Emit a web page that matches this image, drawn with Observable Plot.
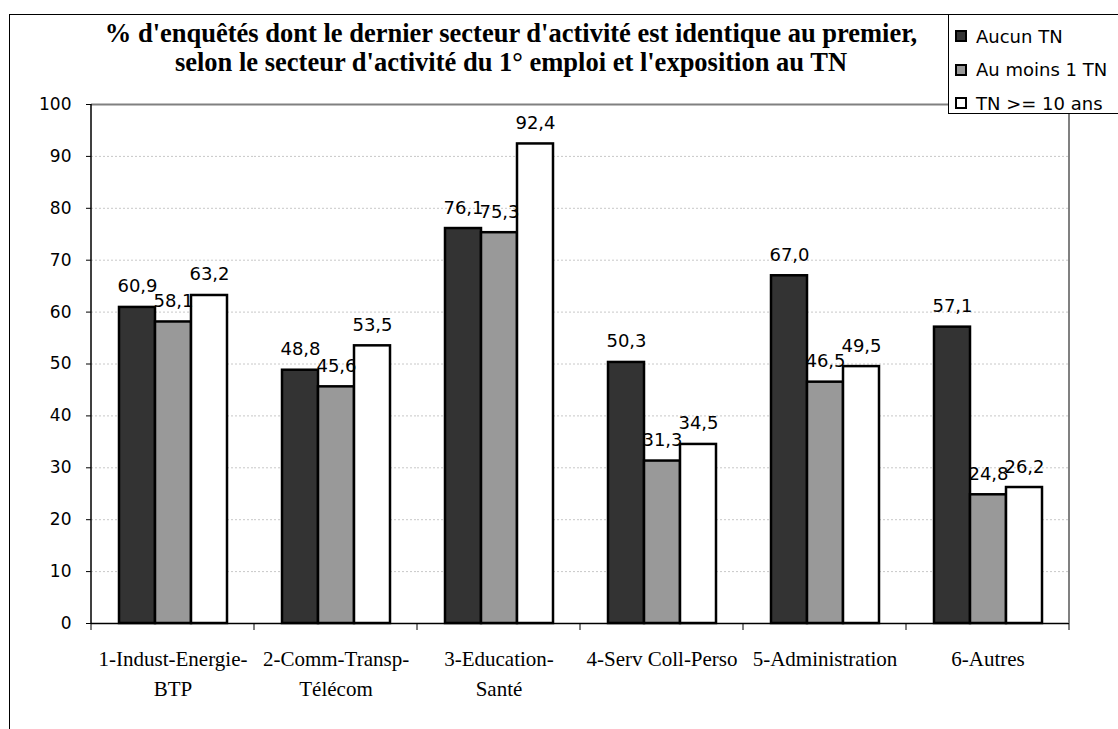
<!DOCTYPE html>
<html>
<head>
<meta charset="utf-8">
<script src="https://cdn.jsdelivr.net/npm/d3@7"></script>
<script src="https://cdn.jsdelivr.net/npm/@observablehq/plot@0.6"></script>
<style>
  html, body { margin: 0; padding: 0; background: #fff; }
  #wrap { position: relative; width: 1118px; height: 729px; overflow: hidden; }
  #frame { position: absolute; left: 9px; top: 14px; width: 1200px; height: 800px;
           border-left: 1px solid #000; border-top: 1px solid #000; }
  #title { position: absolute; left: 0; width: 1022px; top: 19px; text-align: center;
           font-family: "Liberation Serif", "Times New Roman", serif; font-weight: bold;
           font-size: 26.5px; line-height: 29px; color: #000; }
  #legend { position: absolute; left: 948px; top: 14px; width: 200px; height: 98px;
            border: 1px solid #000; background: #fff; font-family: "DejaVu Sans", sans-serif;
            font-size: 18px; color: #000; }
  .item { position: absolute; left: 6px; height: 22px; display: flex; align-items: center; }
  .sw { width: 8px; height: 8px; border: 2px solid #000; margin-right: 9px; }
  #chart { position: absolute; left: 0; top: 0; }
</style>
</head>
<body>
<div id="wrap">
  <div id="frame"></div>
  <div id="chart"></div>
  <div id="title">% d'enquêtés dont le dernier secteur d'activité est identique au premier,<br>selon le secteur d'activité du 1° emploi et l'exposition au TN</div>
  <div id="legend"></div>
</div>
<script>
const categories = ["1-Indust-Energie-\nBTP", "2-Comm-Transp-\nTélécom", "3-Education-\nSanté", "4-Serv Coll-Perso", "5-Administration", "6-Autres"];
const series = ["Aucun TN", "Au moins 1 TN", "TN >= 10 ans"];
const aucunTN = [60.9, 48.8, 76.1, 50.3, 67.0, 57.1];
const auMoins1TN = [58.1, 45.6, 75.3, 31.3, 46.5, 24.8];
const tn10ans = [63.2, 53.5, 92.4, 34.5, 49.5, 26.2];
const colors = ["#333333", "#999999", "#ffffff"];
const yTicks = [0, 10, 20, 30, 40, 50, 60, 70, 80, 90, 100];

const seriesValues = [aucunTN, auMoins1TN, tn10ans];
const data = [];
categories.forEach((c, i) => {
  series.forEach((s, j) => data.push({cat: c, series: s, value: seriesValues[j][i]}));
});
const fmt = v => v.toFixed(1).replace(".", ",");

const plot = Plot.plot({
  width: 1118,
  height: 729,
  marginLeft: 88,
  marginRight: 47,
  marginTop: 104,
  marginBottom: 106,
  style: {background: "transparent", overflow: "visible"},
  fx: {domain: categories, padding: 0, label: null},
  x: {domain: series, paddingInner: 0, paddingOuter: 0.75, axis: null},
  y: {domain: [0, 100], label: null},
  color: {domain: series, range: colors},
  marks: [
    Plot.ruleY(yTicks.filter(d => d > 0 && d < 100), {stroke: "#c8c8c8", strokeDasharray: "2,2", strokeWidth: 1}),
    Plot.ruleY([100], {stroke: "#808080", strokeWidth: 2}),
    Plot.barY(data, {fx: "cat", x: "series", y: "value", fill: "series", stroke: "#000", strokeWidth: 2.5}),
    Plot.ruleY([0], {stroke: "#000", strokeWidth: 1.5}),
    Plot.text(data, {fx: "cat", x: "series", y: "value", text: d => fmt(d.value), lineAnchor: "bottom", dy: -15,
      fontSize: 18, fontFamily: "DejaVu Sans", fill: "#000"}),
    Plot.axisY({ticks: yTicks, tickSize: 5, tickPadding: 15, fontSize: 17, fontFamily: "DejaVu Sans", stroke: "#000", color: "#000", label: null, tickFormat: d => String(d)}),
    Plot.axisFx({anchor: "bottom", tickSize: 0, tickPadding: 22, fontSize: 21, fontFamily: "Liberation Serif", lineHeight: 1.4, label: null, color: "#000"})
  ]
});
document.getElementById("chart").appendChild(plot);

// plot area borders and category boundary ticks, positioned from the library scales
const fx = plot.scale("fx");
const y = plot.scale("y");
const svg = d3.select(plot);
const y0 = y.apply(0), y100 = y.apply(100);
const starts = categories.map(c => fx.apply(c));
const bounds = starts.concat([starts[starts.length - 1] + fx.bandwidth]);
const g = svg.append("g");
g.append("line").attr("x1", bounds[0]).attr("x2", bounds[0]).attr("y1", y100).attr("y2", y0)
  .attr("stroke", "#000").attr("stroke-width", 1.5);
g.append("line").attr("x1", bounds[bounds.length - 1]).attr("x2", bounds[bounds.length - 1]).attr("y1", y100).attr("y2", y0)
  .attr("stroke", "#808080").attr("stroke-width", 2);
g.selectAll("line.bt").data(bounds).join("line").attr("class", "bt")
  .attr("x1", d => d).attr("x2", d => d).attr("y1", y0).attr("y2", y0 + 7)
  .attr("stroke", "#000").attr("stroke-width", 1);

// legend
const legend = d3.select("#legend");
series.forEach((s, i) => {
  const it = legend.append("div").attr("class", "item").style("top", (10 + i * 33.5) + "px");
  it.append("div").attr("class", "sw").style("background", colors[i]);
  it.append("span").text(s);
});
</script>
</body>
</html>
